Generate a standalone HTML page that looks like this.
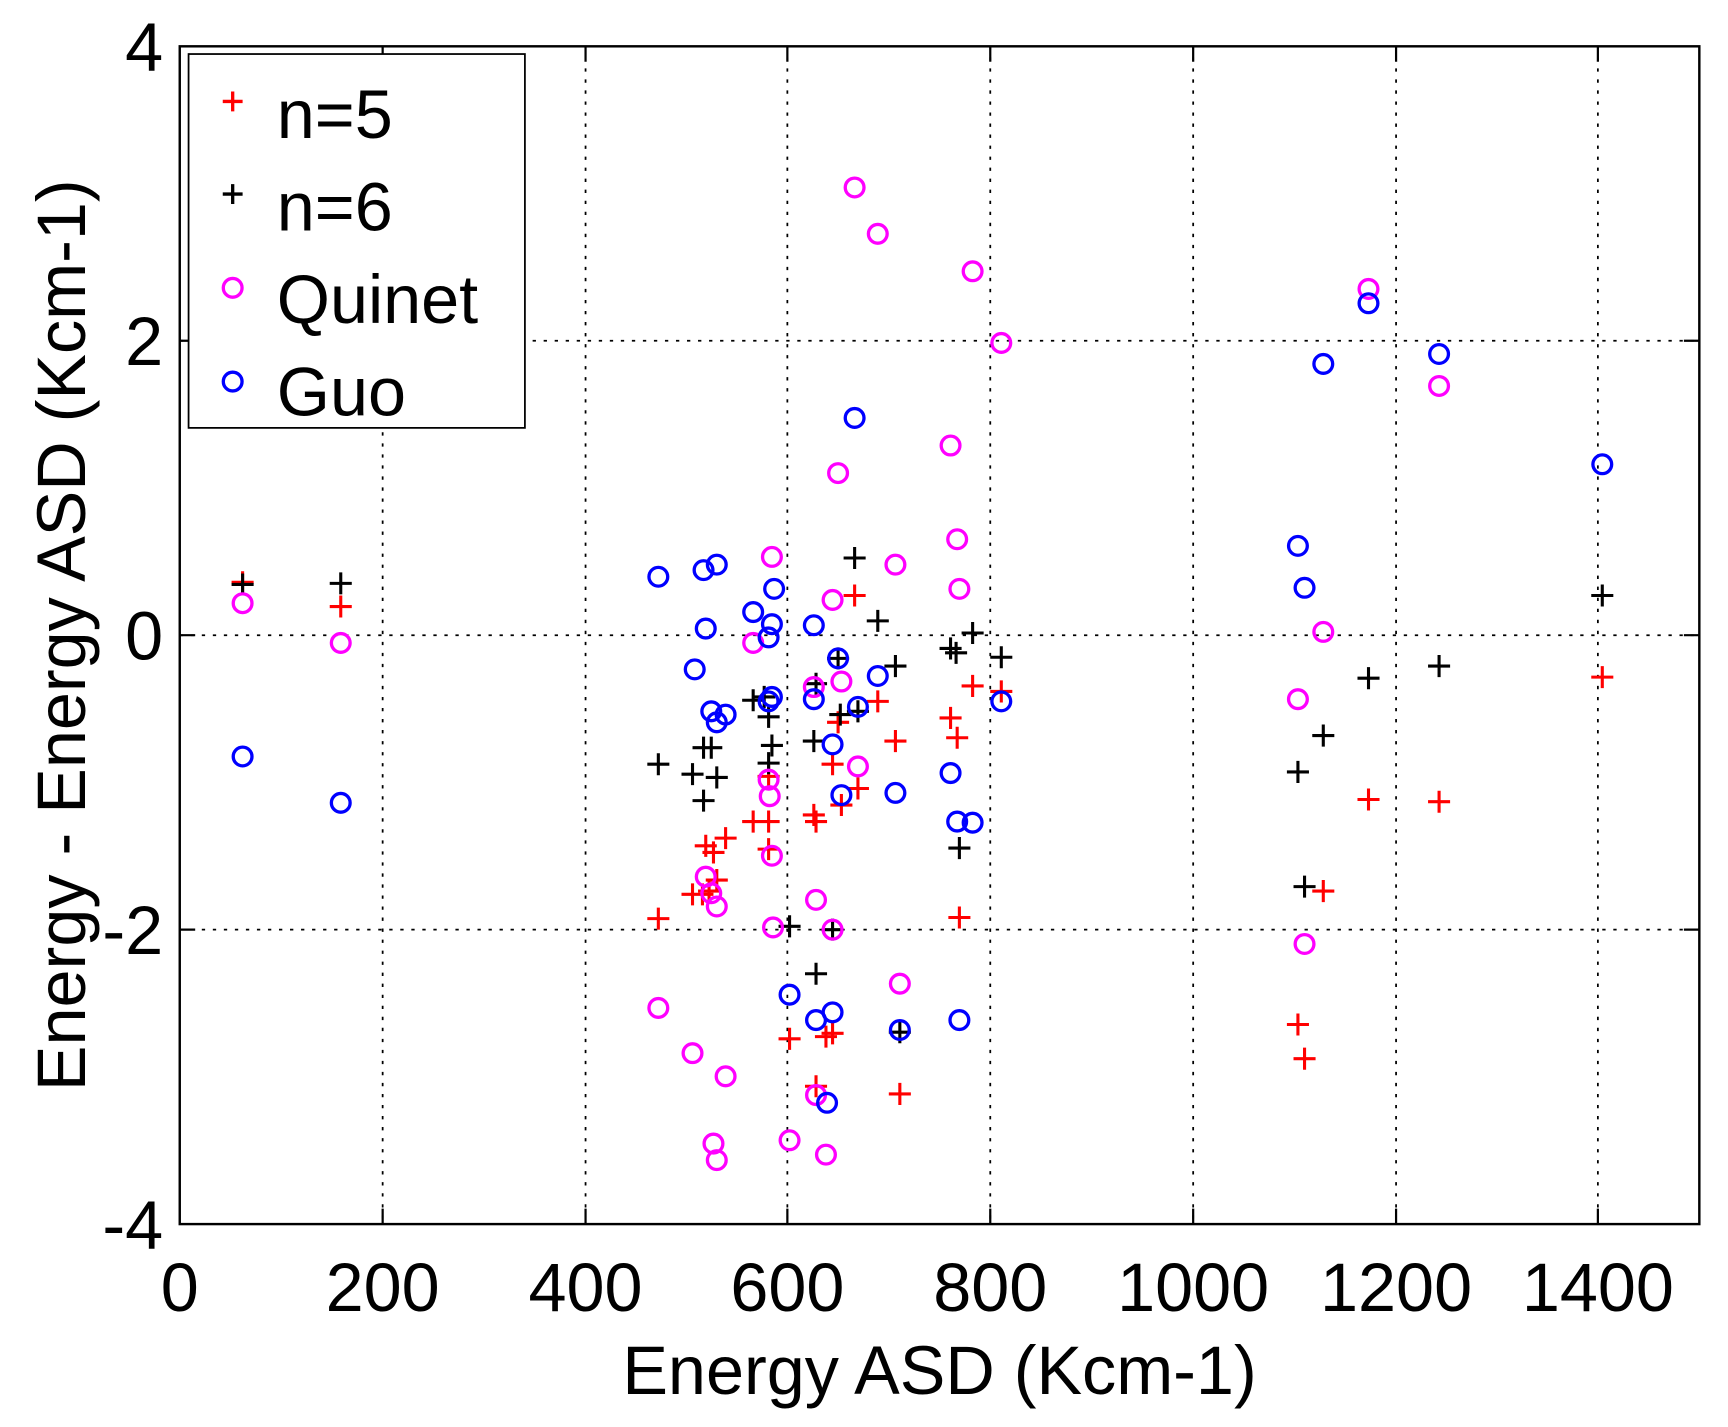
<!DOCTYPE html>
<html><head><meta charset="utf-8"><style>html,body{margin:0;padding:0;background:#fff}svg{display:block}</style></head>
<body>
<svg width="1728" height="1427" viewBox="0 0 1567 1294" preserveAspectRatio="none" xmlns="http://www.w3.org/2000/svg" font-family="Liberation Sans, Arial, sans-serif">
<rect width="1567" height="1294" fill="#fff"/>
<g stroke="#000" stroke-width="1.6" stroke-dasharray="3,7">
<line x1="347" y1="42" x2="347" y2="1110"/><line x1="531" y1="42" x2="531" y2="1110"/><line x1="714" y1="42" x2="714" y2="1110"/><line x1="898" y1="42" x2="898" y2="1110"/><line x1="1082" y1="42" x2="1082" y2="1110"/><line x1="1266" y1="42" x2="1266" y2="1110"/><line x1="1449" y1="42" x2="1449" y2="1110"/>
<line x1="163" y1="309" x2="1541" y2="309"/><line x1="163" y1="576" x2="1541" y2="576"/><line x1="163" y1="843" x2="1541" y2="843"/>
</g>
<rect x="163" y="42" width="1378" height="1068" fill="none" stroke="#000" stroke-width="2.2"/>
<g stroke="#000" stroke-width="2">
<path d="M347 1110v-14M531 1110v-14M714 1110v-14M898 1110v-14M1082 1110v-14M1266 1110v-14M1449 1110v-14M347 42v14M531 42v14M714 42v14M898 42v14M1082 42v14M1266 42v14M1449 42v14M163 309h14M163 576h14M163 843h14M1541 309h-14M1541 576h-14M1541 843h-14"/>
</g>
<g font-size="62" text-anchor="end">
<text x="148" y="64">4</text><text x="148" y="331">2</text><text x="148" y="598">0</text><text x="148" y="865">-2</text><text x="148" y="1132">-4</text>
</g>
<g font-size="62" text-anchor="middle">
<text x="163" y="1189">0</text><text x="347" y="1189">200</text><text x="531" y="1189">400</text><text x="714" y="1189">600</text><text x="898" y="1189">800</text><text x="1082" y="1189">1000</text><text x="1266" y="1189">1200</text><text x="1449" y="1189">1400</text>
</g>
<text x="852" y="1264" font-size="62" text-anchor="middle">Energy ASD (Kcm-1)</text>
<text transform="translate(77,576) rotate(-90)" font-size="62" text-anchor="middle">Energy - Energy ASD (Kcm-1)</text>

<g>
<g stroke="#f00" stroke-width="2.8" fill="none">
<path d="M210 528h20M220 518v20M299 550h20M309 540v20M587 833h20M597 823v20M618 811h20M628 801v20M627 811h20M637 801v20M630 767h20M640 757v20M637 773h20M647 763v20M648 760h20M658 750v20M640 798h20M650 788v20M633 808h20M643 798v20M673 745h20M683 735v20M687 745h20M697 735v20M687 704h20M697 694v20M687 770h20M697 760v20M706 942h20M716 932v20M728 739h20M738 729v20M730 745h20M740 735v20M730 985h20M740 975v20M739 940h20M749 930v20M745 937h20M755 927v20M745 693h20M755 683v20M750 655h20M760 645v20M753 730h20M763 720v20M765 540h20M775 530v20M768 715h20M778 705v20M786 636h20M796 626v20M802 672h20M812 662v20M806 992h20M816 982v20M852 651h20M862 641v20M858 669h20M868 659v20M860 832h20M870 822v20M872 622h20M882 612v20M898 627h20M908 617v20M1167 929h20M1177 919v20M1173 960h20M1183 950v20M1190 808h20M1200 798v20M1231 725h20M1241 715v20M1295 727h20M1305 717v20M1443 614h20M1453 604v20"/>
</g>
<g stroke="#000" stroke-width="2.8" fill="none">
<path d="M210 530h20M220 520v20M299 529h20M309 519v20M587 693h20M597 683v20M618 702h20M628 692v20M628 726h20M638 716v20M628 678h20M638 668v20M635 678h20M645 668v20M640 705h20M650 695v20M673 635h20M683 625v20M683 632h20M693 622v20M687 650h20M697 640v20M690 676h20M700 666v20M687 692h20M697 682v20M706 840h20M716 830v20M728 672h20M738 662v20M730 620h20M740 610v20M730 883h20M740 873v20M745 843h20M755 833v20M750 597h20M760 587v20M752 648h20M762 638v20M765 506h20M775 496v20M768 645h20M778 635v20M786 563h20M796 553v20M802 604h20M812 594v20M806 936h20M816 926v20M852 588h20M862 578v20M857 592h20M867 582v20M860 769h20M870 759v20M872 574h20M882 564v20M898 596h20M908 586v20M1167 700h20M1177 690v20M1173 804h20M1183 794v20M1190 667h20M1200 657v20M1231 615h20M1241 605v20M1295 604h20M1305 594v20M1443 540h20M1453 530v20"/>
</g>
<g stroke="#f0f" stroke-width="3" fill="none">
<circle cx="220" cy="547" r="8.5"/><circle cx="309" cy="583" r="8.5"/><circle cx="597" cy="914" r="8.5"/><circle cx="628" cy="955" r="8.5"/><circle cx="640" cy="795" r="8.5"/><circle cx="645" cy="810" r="8.5"/><circle cx="650" cy="822" r="8.5"/><circle cx="647" cy="1037" r="8.5"/><circle cx="650" cy="1052" r="8.5"/><circle cx="658" cy="976" r="8.5"/><circle cx="683" cy="583" r="8.5"/><circle cx="697" cy="707" r="8.5"/><circle cx="698" cy="722" r="8.5"/><circle cx="700" cy="776" r="8.5"/><circle cx="700" cy="505" r="8.5"/><circle cx="701" cy="841" r="8.5"/><circle cx="716" cy="1034" r="8.5"/><circle cx="738" cy="623" r="8.5"/><circle cx="740" cy="816" r="8.5"/><circle cx="740" cy="993" r="8.5"/><circle cx="749" cy="1047" r="8.5"/><circle cx="755" cy="843" r="8.5"/><circle cx="755" cy="544" r="8.5"/><circle cx="760" cy="429" r="8.5"/><circle cx="763" cy="618" r="8.5"/><circle cx="775" cy="170" r="8.5"/><circle cx="778" cy="695" r="8.5"/><circle cx="796" cy="212" r="8.5"/><circle cx="812" cy="512" r="8.5"/><circle cx="816" cy="892" r="8.5"/><circle cx="862" cy="404" r="8.5"/><circle cx="868" cy="489" r="8.5"/><circle cx="870" cy="534" r="8.5"/><circle cx="882" cy="246" r="8.5"/><circle cx="908" cy="311" r="8.5"/><circle cx="1177" cy="634" r="8.5"/><circle cx="1183" cy="856" r="8.5"/><circle cx="1200" cy="573" r="8.5"/><circle cx="1241" cy="262" r="8.5"/><circle cx="1305" cy="350" r="8.5"/>
</g>
<g stroke="#00f" stroke-width="3" fill="none">
<circle cx="220" cy="686" r="8.5"/><circle cx="309" cy="728" r="8.5"/><circle cx="597" cy="523" r="8.5"/><circle cx="630" cy="607" r="8.5"/><circle cx="638" cy="517" r="8.5"/><circle cx="640" cy="570" r="8.5"/><circle cx="645" cy="645" r="8.5"/><circle cx="650" cy="512" r="8.5"/><circle cx="650" cy="655" r="8.5"/><circle cx="658" cy="648" r="8.5"/><circle cx="683" cy="555" r="8.5"/><circle cx="697" cy="578" r="8.5"/><circle cx="700" cy="566" r="8.5"/><circle cx="702" cy="534" r="8.5"/><circle cx="697" cy="636" r="8.5"/><circle cx="700" cy="632" r="8.5"/><circle cx="716" cy="902" r="8.5"/><circle cx="738" cy="567" r="8.5"/><circle cx="740" cy="925" r="8.5"/><circle cx="738" cy="634" r="8.5"/><circle cx="755" cy="918" r="8.5"/><circle cx="750" cy="1000" r="8.5"/><circle cx="760" cy="597" r="8.5"/><circle cx="763" cy="721" r="8.5"/><circle cx="755" cy="675" r="8.5"/><circle cx="775" cy="379" r="8.5"/><circle cx="778" cy="641" r="8.5"/><circle cx="796" cy="613" r="8.5"/><circle cx="812" cy="719" r="8.5"/><circle cx="816" cy="934" r="8.5"/><circle cx="862" cy="701" r="8.5"/><circle cx="868" cy="745" r="8.5"/><circle cx="882" cy="746" r="8.5"/><circle cx="870" cy="925" r="8.5"/><circle cx="908" cy="636" r="8.5"/><circle cx="1177" cy="495" r="8.5"/><circle cx="1183" cy="533" r="8.5"/><circle cx="1200" cy="330" r="8.5"/><circle cx="1241" cy="275" r="8.5"/><circle cx="1305" cy="321" r="8.5"/><circle cx="1453" cy="421" r="8.5"/>
</g>
</g>

<rect x="171" y="49" width="305" height="339" fill="#fff" stroke="#000" stroke-width="1.6"/>
<path d="M202 92h18M211 83v18" stroke="#f00" stroke-width="3"/>
<path d="M202 176h18M211 167v18" stroke="#000" stroke-width="3"/>
<circle cx="211" cy="261" r="8.5" stroke="#f0f" stroke-width="3" fill="none"/>
<circle cx="211" cy="346" r="8.5" stroke="#00f" stroke-width="3" fill="none"/>
<g font-size="62">
<text x="251" y="125">n=5</text><text x="251" y="209">n=6</text><text x="251" y="293">Quinet</text><text x="251" y="377">Guo</text>
</g>
</svg>
</body></html>
